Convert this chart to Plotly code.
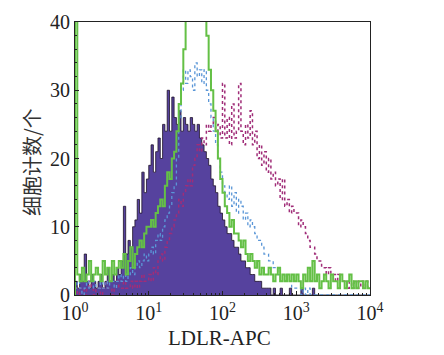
import numpy as np
import plotly.graph_objects as go

# channel grid: 32 channels per decade, 10^0 .. 10^4
log_edges = np.arange(129) / 32.0
x_edges = 10 ** log_edges

purple_black = [2,1,3,2,6,2,1,3,2,1,
                2,3,1,2,4,2,3,2,4,3,
                5,13,6,8,7,10,
                11,14,12,18,15,17,
                19,22,18,21,23,20,25,24,
                30,24,29,26,25,27,24,26,
                25,24,26,25,24,25,23,
                22,21,20,19,17,
                16,15,13,12,
                11,10,9,9,8,7,7,
                6,5,5,4,4,3,
                3,2,2,2,1,1,1,
                1,0,1,0,0,1,0,0,0,1,0,0,
                0,0,1,0,0,0,0,1,0,0,0,0,0,0,0,0,0,0,0,0,0,0,0,0,0,0,0,0,0,0,0,0]

green = [45,
         3,2,4,2,3,5,2,3,4,
         3,2,5,3,4,2,5,3,4,5,
         4,6,3,5,7,4,
         6,7,8,7,9,10,
         10,11,10,12,13,14,13,16,
         18,17,20,21,24,28,31,36,
         42,45,44,46,43,45,44,
         44,42,38,33,30,
         27,24,20,17,
         15,13,12,10,11,9,9,
         8,7,8,6,5,6,
         5,4,5,3,4,3,3,
         4,3,2,3,4,2,3,2,3,2,3,2,
         3,2,1,3,2,4,2,5,2,3,1,2,3,2,1,3,2,2,1,3,2,1,2,3,1,2,1,2,2,1,2,1]

blue = [1,2,1,0,1,2,1,1,2,1,
        1,2,1,2,1,2,2,1,2,3,
        2,3,2,3,4,3,
        4,5,4,5,6,5,
        6,7,6,8,9,8,10,11,
        12,13,15,16,20,26,30,33,
        31,33,32,30,34,32,33,
        31,33,30,28,26,
        24,22,20,18,
        16,15,14,16,13,15,12,
        14,13,11,12,10,11,
        10,9,8,8,7,6,6,
        5,5,4,4,3,3,3,2,2,2,1,1,
        1,1,0,1,0,1,0,0,0,0,0,0,0,0,0,0,0,0,0,0,0,0,0,0,0,0,0,0,0,0,0,0]

magenta = [1,0,1,1,0,1,2,1,0,1,
           1,0,1,2,1,1,0,1,2,1,
           1,2,1,1,2,1,
           2,1,2,3,2,2,
           3,2,4,3,5,6,5,7,
           8,9,10,11,12,14,13,15,
           16,17,16,19,20,22,21,
           23,22,25,24,25,
           26,24,25,23,
           31,23,26,22,28,23,24,
           31,24,22,25,23,27,
           22,24,20,22,19,21,18,
           20,17,18,16,17,14,17,13,14,12,13,12,
           12,10,11,10,9,8,7,7,6,5,5,4,4,3,4,3,3,2,3,2,2,2,1,2,1,2,2,1,2,1,2,1]

tick_vals = [1, 10, 100, 1000, 10000]
tick_text = ["10<sup>0</sup>", "10<sup>1</sup>", "10<sup>2</sup>", "10<sup>3</sup>", "10<sup>4</sup>"]
y_ticks = [0, 10, 20, 30, 40]


def step_xy(vals):
    xs = [x_edges[0]] + list(x_edges)
    ys = [0] + list(vals) + [vals[-1]]
    return xs, ys


fig = go.Figure()

xs, ys = step_xy(purple_black)
fig.add_trace(go.Scatter(x=xs, y=ys, mode="lines", line_shape="hv",
                         fill="tozeroy", fillcolor="rgb(86,66,158)",
                         line=dict(color="rgb(30,18,40)", width=0.8)))

xs, ys = step_xy(magenta)
fig.add_trace(go.Scatter(x=xs, y=ys, mode="lines", line_shape="hv",
                         line=dict(color="rgb(160,45,120)", width=1.5, dash="dot")))

xs, ys = step_xy(blue)
fig.add_trace(go.Scatter(x=xs, y=ys, mode="lines", line_shape="hv",
                         line=dict(color="rgb(90,150,215)", width=1.3, dash="dot")))

xs, ys = step_xy(green)
fig.add_trace(go.Scatter(x=xs, y=ys, mode="lines", line_shape="hv",
                         line=dict(color="rgb(100,192,70)", width=2)))

axis_font = dict(family="Liberation Serif", size=20, color="#222")

# the page body adds an 8px offset; the figure is sized to fill the rest of the window
fig.update_layout(
    width=436, height=347,
    margin=dict(l=67, r=74, t=14, b=60, autoexpand=False),
    paper_bgcolor="white", plot_bgcolor="white",
    showlegend=False,
    xaxis=dict(type="log", range=[0, 4], tickvals=tick_vals, ticktext=tick_text,
               ticks="inside", ticklen=4, tickcolor="#222",
               minor=dict(ticks="inside", ticklen=2, tickcolor="#222", dtick="D1"),
               showline=True, linecolor="#222", linewidth=1, mirror=True,
               showgrid=False, zeroline=False, tickfont=axis_font, automargin=False),
    yaxis=dict(range=[0, 40], tickvals=y_ticks,
               ticks="inside", ticklen=4, tickcolor="#222",
               minor=dict(ticks="inside", ticklen=2, tickcolor="#222", dtick=2),
               showline=True, linecolor="#222", linewidth=1, mirror=True,
               showgrid=False, zeroline=False, tickfont=axis_font, automargin=False),
    annotations=[
        dict(text="LDLR-APC", xref="paper", yref="paper", x=0.49, y=-0.158,
             xanchor="center", yanchor="middle", showarrow=False,
             font=dict(family="Liberation Serif", size=21, color="#222")),
        dict(text="细胞计数/个", xref="paper", yref="paper", x=-0.149, y=0.487,
             xanchor="center", yanchor="middle", showarrow=False, textangle=-90,
             font=dict(family="Noto Sans CJK SC", size=20, color="#333")),
    ],
)

fig.write_html("out.html")
